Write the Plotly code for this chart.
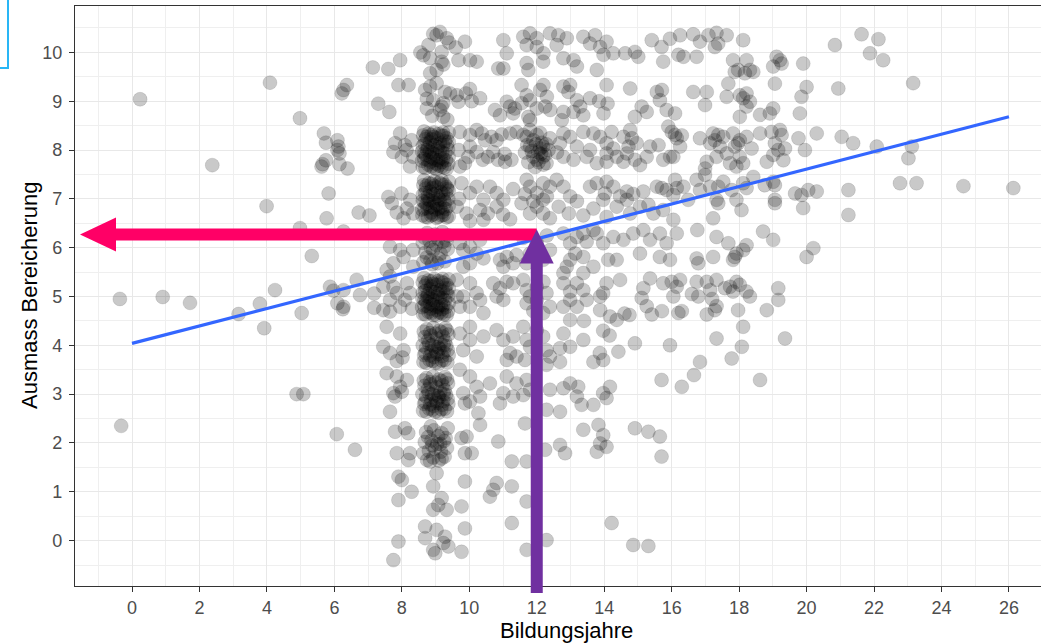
import plotly.graph_objects as go

# Bildungsjahre (x) und Ausmass Bereicherung (y), nach Bildungsjahr gruppiert (gejittert)
spalte_links = [
    (0.24, 9.04), (4.09, 9.38), (2.38, 7.69), (3.99, 6.85), (4.98, 8.65), (5.33, 5.83),
    (-0.36, 4.95), (0.91, 4.99), (1.72, 4.87), (3.16, 4.64), (3.79, 4.85), (5.03, 4.66),
    (4.24, 5.13), (4.98, 6.40), (3.92, 4.35), (-0.32, 2.35), (4.88, 3.0), (5.08, 3.0),
    (6.07, 2.18), (6.61, 1.86),
    (5.69, 8.34), (5.75, 8.15), (6.09, 8.2), (6.09, 8.0), (6.15, 7.93), (5.65, 7.71),
    (5.62, 7.66), (5.75, 7.79), (6.15, 7.71), (6.39, 7.62), (6.12, 8.07),
    (5.83, 7.11), (5.77, 6.60), (6.72, 6.72), (7.04, 6.66), (6.27, 6.33),
    (6.27, 9.23), (6.37, 9.33), (6.22, 9.16), (7.14, 9.69), (7.3, 8.95),
    (6.66, 5.34), (5.97, 5.12), (6.27, 5.13), (6.76, 5.03), (7.18, 5.06), (6.09, 4.86),
    (6.27, 4.79), (6.25, 4.74), (7.18, 4.77), (5.87, 5.2),
]

spalte_08 = [
    (7.6, 9.66), (7.95, 9.84), (7.9, 9.33), (8.2, 9.33), (7.63, 8.78),
    (7.95, 8.34), (7.8, 8.14), (8.09, 8.1), (7.75, 7.96), (8.0, 7.86), (8.34, 7.86),
    (8.24, 7.66), (8.29, 8.2), (8.14, 8.0),
    (7.6, 7.04), (7.99, 7.11), (7.7, 6.91), (7.85, 6.72), (8.05, 6.6), (8.25, 6.98),
    (8.15, 6.8), (8.34, 6.7),
    (7.65, 6.02), (7.95, 5.95), (8.05, 5.81), (7.75, 5.68), (8.34, 5.95), (8.34, 5.61),
    (7.55, 5.54),
    (7.65, 5.41), (7.45, 5.2), (7.75, 5.2), (7.85, 5.07), (7.65, 4.93), (7.95, 4.79),
    (8.15, 5.27), (8.09, 4.93), (7.45, 4.72), (8.24, 5.07), (7.65, 4.69), (8.3, 4.75),
    (7.55, 4.38), (7.45, 3.97), (7.65, 3.84), (7.95, 4.24), (8.05, 3.9), (7.85, 3.68),
    (8.02, 3.75),
    (7.55, 3.43), (7.85, 3.36), (7.95, 3.15), (7.75, 3.02), (8.15, 3.29), (8.0, 3.05),
    (7.65, 2.64), (7.8, 2.95),
    (7.8, 2.23), (8.09, 2.3), (8.19, 2.2), (7.85, 1.79), (8.24, 1.79), (8.19, 1.65),
    (7.9, 1.31), (8.0, 1.24), (8.29, 1.0), (7.9, 0.83),
    (7.9, -0.02), (7.75, -0.4),
]

spalte_09 = [
    # Wert 10 und 9
    (9.03, 10.35), (9.33, 10.29), (9.18, 10.01), (8.79, 10.15), (8.64, 9.94), (9.18, 9.81),
    (9.03, 9.64), (8.84, 9.88), (9.23, 9.75), (8.84, 9.57), (9.13, 10.42), (9.4, 10.2),
    (8.93, 10.38), (8.55, 10.0),
    (8.69, 9.23), (8.84, 9.3), (9.03, 9.37), (9.28, 9.19), (8.74, 9.05), (8.93, 9.02),
    (9.23, 8.96), (9.13, 8.82), (8.74, 8.85), (9.18, 8.89), (9.23, 8.68), (9.35, 8.62),
    (9.43, 9.16), (8.9, 8.7),
    # Wert 8
    (8.62, 7.65), (8.78, 7.7), (8.95, 7.63), (9.1, 7.68), (9.26, 7.64), (9.38, 7.72),
    (8.66, 7.82), (8.84, 7.86), (9.0, 7.8), (9.15, 7.84), (9.31, 7.79),
    (8.6, 7.97), (8.75, 8.0), (8.9, 7.95), (9.05, 8.02), (9.2, 7.96), (9.37, 8.01),
    (8.68, 8.12), (8.83, 8.16), (8.98, 8.1), (9.13, 8.14), (9.28, 8.18),
    (8.63, 8.3), (8.79, 8.34), (8.94, 8.27), (9.09, 8.33), (9.24, 8.29), (9.39, 8.36),
    (8.71, 7.9), (9.18, 7.75), (8.88, 8.22), (9.34, 8.1), (9.02, 7.72), (8.7, 8.22),
    (9.22, 8.36), (8.85, 7.76),
    (8.7, 7.63), (8.87, 7.66), (9.03, 7.61), (9.18, 7.66), (9.33, 7.62),
    (8.6, 7.78), (8.76, 7.8), (8.92, 7.83), (9.08, 7.79), (9.23, 7.82), (9.39, 7.86),
    (8.67, 7.93), (8.83, 7.97), (8.98, 7.92), (9.13, 7.98), (9.28, 7.93),
    (8.62, 8.08), (8.77, 8.05), (8.92, 8.09), (9.07, 8.06), (9.22, 8.1), (9.39, 8.17),
    (8.73, 8.27), (8.88, 8.31), (9.03, 8.24), (9.18, 8.3), (9.33, 8.24),
    (8.96, 8.36), (8.66, 8.38),
    # Wert 7
    (8.61, 6.66), (8.77, 6.62), (8.93, 6.68), (9.08, 6.63), (9.24, 6.67), (9.39, 6.64),
    (8.67, 6.8), (8.83, 6.83), (8.99, 6.78), (9.14, 6.82), (9.3, 6.79),
    (8.62, 6.96), (8.78, 6.99), (8.94, 6.95), (9.09, 7.01), (9.25, 6.97), (9.38, 7.0),
    (8.69, 7.12), (8.84, 7.15), (9.0, 7.1), (9.16, 7.14), (9.31, 7.11),
    (8.64, 7.28), (8.8, 7.32), (8.96, 7.27), (9.11, 7.33), (9.27, 7.29), (9.4, 7.35),
    (8.73, 6.9), (9.2, 6.73), (8.9, 7.22), (9.35, 7.2), (9.04, 6.88), (8.71, 7.21),
    (9.18, 7.38), (8.87, 6.72),
    (8.7, 6.63), (8.87, 6.66), (9.03, 6.61), (9.18, 6.66), (9.33, 6.62),
    (8.6, 6.78), (8.76, 6.8), (8.92, 6.83), (9.08, 6.79), (9.23, 6.82), (9.39, 6.86),
    (8.67, 6.93), (8.83, 6.97), (8.98, 6.92), (9.13, 6.98), (9.28, 6.93),
    (8.62, 7.08), (8.77, 7.05), (8.92, 7.09), (9.07, 7.06), (9.22, 7.1), (9.39, 7.17),
    (8.73, 7.27), (8.88, 7.31), (9.03, 7.24), (9.18, 7.3), (9.33, 7.24),
    (8.96, 7.36), (8.66, 7.38),
    # Wert 6
    (8.64, 5.7), (8.85, 5.74), (9.05, 5.68), (9.27, 5.72),
    (8.7, 5.9), (8.93, 5.95), (9.15, 5.88), (9.36, 5.97),
    (8.62, 6.1), (8.82, 6.14), (9.02, 6.06), (9.22, 6.12),
    (8.75, 6.3), (8.98, 6.27), (9.2, 6.32), (9.38, 6.25),
    (8.74, 5.8), (9.1, 5.78), (8.86, 6.0), (9.26, 6.02), (8.68, 6.2), (9.08, 6.18),
    (8.9, 5.66), (9.32, 6.15),
    # Wert 5
    (8.63, 4.64), (8.79, 4.68), (8.94, 4.62), (9.11, 4.67), (9.25, 4.63), (9.37, 4.7),
    (8.67, 4.81), (8.83, 4.85), (9.01, 4.79), (9.16, 4.83), (9.3, 4.78),
    (8.61, 4.96), (8.76, 5.0), (8.91, 4.94), (9.06, 5.01), (9.21, 4.97), (9.38, 5.02),
    (8.69, 5.11), (8.84, 5.15), (8.99, 5.09), (9.14, 5.13), (9.29, 5.17),
    (8.62, 5.29), (8.78, 5.33), (8.93, 5.26), (9.08, 5.32), (9.23, 5.28), (9.39, 5.35),
    (8.72, 4.9), (9.19, 4.74), (8.87, 5.21), (9.33, 5.08), (9.03, 4.72), (8.69, 5.22),
    (9.21, 5.36), (8.86, 4.75),
    (8.7, 4.63), (8.87, 4.66), (9.03, 4.61), (9.18, 4.66), (9.33, 4.62),
    (8.6, 4.78), (8.76, 4.8), (8.92, 4.83), (9.08, 4.79), (9.23, 4.82), (9.39, 4.86),
    (8.67, 4.93), (8.83, 4.97), (8.98, 4.92), (9.13, 4.98), (9.28, 4.93),
    (8.62, 5.08), (8.77, 5.05), (8.92, 5.09), (9.07, 5.06), (9.22, 5.1), (9.39, 5.17),
    (8.73, 5.27), (8.88, 5.31), (9.03, 5.24), (9.18, 5.3), (9.33, 5.24),
    (8.96, 5.36), (8.66, 5.38),
    # Wert 4
    (8.64, 3.66), (8.82, 3.7), (9.0, 3.64), (9.18, 3.69), (9.35, 3.65),
    (8.7, 3.84), (8.88, 3.88), (9.06, 3.82), (9.24, 3.86), (9.39, 3.8),
    (8.62, 4.0), (8.8, 4.03), (8.97, 3.97), (9.15, 4.04), (9.32, 3.99),
    (8.68, 4.17), (8.86, 4.2), (9.04, 4.14), (9.22, 4.18), (9.38, 4.22),
    (8.74, 4.33), (8.93, 4.36), (9.11, 4.3), (9.29, 4.35),
    (8.95, 3.76), (9.12, 3.93), (8.78, 4.1), (9.28, 4.08),
    (8.73, 3.64), (8.91, 3.68), (9.09, 3.62), (9.27, 3.7),
    (8.66, 3.8), (8.84, 3.79), (9.02, 3.86), (9.2, 3.78), (9.36, 3.9),
    (8.72, 3.95), (8.9, 4.0), (9.08, 3.96), (9.24, 4.0),
    (8.65, 4.28), (8.83, 4.25), (9.0, 4.24), (9.18, 4.27), (9.34, 4.3),
    # Wert 3
    (8.63, 2.66), (8.81, 2.7), (8.99, 2.64), (9.17, 2.69), (9.34, 2.65),
    (8.69, 2.84), (8.87, 2.88), (9.05, 2.82), (9.23, 2.86), (9.38, 2.8),
    (8.61, 3.0), (8.79, 3.03), (8.96, 2.97), (9.14, 3.04), (9.31, 2.99),
    (8.67, 3.17), (8.85, 3.2), (9.03, 3.14), (9.21, 3.18), (9.37, 3.22),
    (8.73, 3.33), (8.92, 3.36), (9.1, 3.3), (9.28, 3.35),
    (8.94, 2.76), (9.11, 2.93), (8.77, 3.1), (9.27, 3.08),
    (8.73, 2.64), (8.91, 2.68), (9.09, 2.62), (9.27, 2.7),
    (8.66, 2.8), (8.84, 2.79), (9.02, 2.86), (9.2, 2.78), (9.36, 2.9),
    (8.72, 2.95), (8.9, 3.0), (9.08, 2.96), (9.24, 3.0),
    (8.65, 3.28), (8.83, 3.25), (9.0, 3.24), (9.18, 3.27), (9.34, 3.3),
    # Wert 2
    (8.75, 1.65), (8.93, 1.7), (9.1, 1.64), (9.27, 1.72),
    (8.8, 1.84), (8.98, 1.88), (9.16, 1.82), (9.34, 1.9),
    (8.68, 2.02), (8.88, 2.05), (9.05, 1.98), (9.25, 2.04),
    (8.72, 2.22), (8.95, 2.26), (9.18, 2.2), (9.36, 2.3), (8.64, 1.79),
    (8.84, 1.62), (9.18, 1.68), (8.9, 1.95), (9.14, 1.98), (8.78, 2.12), (9.08, 2.14),
    (9.3, 2.1), (8.86, 2.34),
    # Wert 1 und 0
    (9.03, 1.38), (8.93, 1.11), (9.18, 0.87), (9.33, 0.63), (8.93, 0.63), (9.08, 0.73),
    (8.69, 0.29), (9.03, 0.22), (9.28, 0.08), (8.69, 0.05), (8.93, -0.19), (9.23, -0.05),
    (9.38, -0.12), (8.99, -0.26),
]

spalte_10 = [
    (9.68, 9.84), (9.87, 10.22), (10.02, 9.84), (10.22, 9.81), (9.6, 10.1),
    (9.68, 8.99), (10.02, 9.25), (10.32, 9.06), (10.07, 9.0), (9.63, 9.12), (9.9, 9.16),
    (9.72, 8.37), (10.02, 8.31), (10.22, 8.41), (10.37, 8.34), (10.47, 8.2), (10.02, 8.07),
    (9.68, 8.0), (9.97, 7.86), (9.87, 7.73), (10.22, 7.96), (9.72, 7.66), (10.4, 7.8),
    (10.22, 7.25), (10.02, 7.12), (10.42, 6.98), (9.63, 6.84), (9.92, 6.7), (10.32, 6.77),
    (10.42, 6.57), (10.02, 6.55), (9.77, 7.32), (9.7, 7.0),
    (9.72, 6.09), (9.82, 5.95), (10.02, 6.02), (10.22, 5.88), (10.42, 5.78), (10.02, 5.68),
    (9.82, 5.61), (10.32, 6.16),
    (9.63, 5.34), (10.02, 5.27), (10.22, 5.07), (9.82, 5.0), (10.32, 4.93), (10.02, 4.79),
    (10.42, 4.66), (9.72, 4.79), (9.63, 5.0),
    (9.72, 4.24), (10.02, 4.11), (9.82, 3.9), (10.22, 3.77), (10.42, 4.18), (10.02, 4.38),
    (9.72, 3.5), (10.02, 3.36), (10.22, 3.15), (9.82, 3.02), (10.32, 2.95), (10.61, 3.22),
    (9.87, 2.81), (10.02, 2.85), (10.27, 2.61),
    (10.32, 2.37), (9.92, 2.13), (9.77, 2.1), (9.87, 1.79), (10.07, 1.79),
    (9.87, 1.21), (9.77, 0.7), (9.87, 0.25), (9.77, -0.23),
]

spalte_11 = [
    (11.01, 10.25), (11.11, 9.98), (10.86, 9.67), (11.01, 9.67),
    (10.76, 8.82), (10.91, 8.71), (11.11, 8.99), (11.21, 8.89), (11.3, 8.75), (11.35, 8.85),
    (10.66, 8.27), (10.81, 8.2), (10.96, 8.32), (11.21, 8.34), (11.4, 8.37), (10.71, 7.96),
    (11.06, 7.76), (10.55, 7.86), (10.85, 7.8), (11.05, 7.92), (11.25, 7.8),
    (10.61, 7.25), (10.81, 7.12), (11.01, 6.98), (10.81, 6.84), (10.55, 6.7), (11.0, 6.68),
    (11.21, 6.58), (11.3, 7.2),
    (10.91, 5.75), (11.11, 5.81), (11.4, 5.85), (11.3, 5.68), (11.01, 5.61),
    (10.71, 5.27), (10.91, 5.17), (11.11, 5.3), (11.3, 5.27), (11.01, 4.93), (10.81, 5.0),
    (10.81, 4.31), (11.01, 4.11), (11.3, 4.18), (11.21, 3.84), (11.11, 3.7), (11.4, 3.77),
    (11.11, 3.36), (11.4, 3.22), (11.01, 3.02), (11.3, 2.95), (10.91, 2.81),
    (10.86, 2.03), (11.26, 1.62),
    (10.81, 1.18), (10.61, 0.9), (10.71, 1.04), (11.26, 1.11), (11.26, 0.36),
]

spalte_12 = [
    (11.6, 10.32), (11.8, 10.39), (12.0, 10.29), (11.7, 10.15), (12.0, 10.11), (12.2, 9.98),
    (12.39, 10.39), (11.7, 9.78), (11.75, 9.64), (12.19, 9.81),
    (11.55, 9.33), (11.7, 9.12), (11.8, 9.02), (12.1, 9.23), (12.2, 9.33), (12.3, 9.09),
    (12.25, 8.89), (12.0, 8.85), (12.4, 8.82), (11.75, 8.68), (11.8, 8.61), (11.55, 8.96),
    (11.7, 8.27), (11.8, 8.41), (12.0, 8.31), (12.19, 8.07), (12.39, 8.24), (11.8, 8.07),
    (12.1, 8.03), (11.9, 7.86), (12.19, 7.86), (12.29, 7.73), (12.05, 7.95), (12.2, 7.7),
    (11.95, 7.65), (12.15, 8.15), (12.25, 7.9), (11.9, 8.2), (11.6, 8.31), (11.65, 7.95),
    (12.35, 8.0), (12.05, 7.75), (11.75, 7.75), (12.1, 8.35),
    (11.85, 7.98), (12.12, 7.92), (11.98, 8.12), (12.28, 8.12), (11.72, 8.1), (12.0, 7.8),
    (11.7, 7.39), (11.8, 7.25), (12.0, 7.12), (12.19, 7.32), (12.39, 7.25), (12.19, 6.98),
    (11.55, 6.91), (11.8, 6.7), (12.0, 6.84), (12.19, 6.7), (12.39, 6.6), (11.9, 6.95),
    (12.3, 7.05), (11.65, 7.1),
    (11.7, 5.68), (11.8, 5.88), (12.19, 5.75), (12.39, 5.95), (12.0, 6.1), (11.6, 6.2),
    (12.3, 6.25),
    (11.6, 5.34), (11.7, 5.13), (11.8, 5.0), (12.0, 4.93), (12.29, 5.07), (12.39, 4.79),
    (12.19, 4.66), (11.7, 4.86), (12.0, 5.2), (12.2, 5.3), (11.9, 4.7),
    (11.6, 4.38), (11.7, 4.11), (11.8, 3.97), (12.29, 3.9), (12.39, 3.77), (12.0, 4.31),
    (12.19, 4.18), (12.29, 3.6), (11.65, 3.7),
    (11.7, 3.29), (11.8, 3.09), (12.39, 3.09), (12.29, 2.68), (11.6, 2.98),
    (11.65, 2.4), (11.7, 1.62), (12.25, 1.86), (11.7, 0.8), (12.29, 0.01), (11.7, -0.19),
]

spalte_13 = [
    (12.64, 10.35), (12.89, 10.29), (12.59, 10.15), (12.79, 9.88), (13.09, 9.84),
    (13.19, 9.71), (13.38, 10.32),
    (12.79, 9.3), (12.94, 9.19), (12.99, 9.33), (13.19, 9.02), (13.29, 8.89), (13.09, 8.78),
    (13.38, 8.71), (12.79, 8.78), (12.74, 8.61),
    (12.69, 8.14), (12.79, 8.34), (12.99, 8.27), (13.19, 8.07), (13.38, 8.37), (12.79, 7.86),
    (13.09, 7.8), (13.48, 7.86), (12.6, 7.95),
    (12.59, 7.39), (12.79, 7.25), (12.99, 7.05), (12.65, 6.84), (12.95, 6.7), (13.19, 6.95),
    (13.38, 6.66),
    (12.99, 6.09), (13.19, 6.22), (13.48, 6.12), (12.99, 5.75), (12.89, 5.61), (13.38, 5.81),
    (13.14, 5.88), (12.79, 6.29), (13.38, 6.29),
    (12.79, 5.27), (12.99, 5.1), (13.19, 5.27), (13.38, 5.13), (12.99, 4.93), (12.79, 4.79),
    (13.19, 4.79), (13.48, 4.93), (12.79, 5.48), (13.38, 5.48),
    (12.79, 4.24), (12.99, 3.97), (13.38, 4.11), (12.69, 3.66), (12.69, 3.94), (12.99, 4.52),
    (13.4, 4.5),
    (12.99, 3.22), (13.19, 2.95), (13.23, 3.15), (12.79, 3.12), (13.33, 2.78), (12.69, 2.64),
    (13.38, 2.27), (12.69, 1.96), (12.84, 1.79),
]

spalte_14 = [
    (13.73, 10.35), (13.58, 10.18), (13.88, 10.11), (13.98, 9.95), (13.78, 9.64),
    (14.07, 10.22), (14.27, 9.98),
    (13.58, 9.06), (13.85, 9.0), (13.98, 8.75), (14.1, 8.95), (14.07, 9.33),
    (13.68, 8.34), (13.88, 8.27), (14.07, 8.14), (14.27, 8.03), (13.78, 7.73), (14.07, 7.76),
    (14.37, 7.86), (14.22, 8.37), (14.07, 7.93), (13.58, 8.0),
    (13.58, 7.25), (13.78, 7.32), (14.07, 7.35), (14.27, 7.25), (14.47, 7.05), (13.97, 6.98),
    (14.37, 6.84), (13.68, 6.8), (14.07, 6.63), (14.02, 7.11),
    (13.78, 6.29), (13.97, 6.09), (13.68, 6.36), (14.27, 6.22), (14.37, 5.75), (14.12, 5.75),
    (13.68, 5.61),
    (13.88, 5.0), (13.97, 5.07), (13.88, 4.72), (14.17, 4.59), (14.07, 5.27), (14.47, 5.34),
    (13.97, 4.3), (14.16, 4.2), (13.87, 3.84), (14.42, 3.87), (13.68, 3.66), (13.97, 3.7),
    (14.37, 4.52),
    (13.97, 3.02), (14.17, 3.15), (14.07, 2.92), (13.68, 2.78),
    (13.83, 2.37), (13.97, 2.16), (13.88, 1.99), (14.07, 1.92), (13.78, 1.82),
    (14.22, 0.36),
]

spalte_15 = [
    (15.41, 10.25), (14.62, 9.98), (14.91, 10.01), (15.01, 9.91),
    (14.77, 9.26), (15.11, 8.89), (15.26, 8.78), (14.91, 8.68),
    (14.77, 8.41), (14.82, 8.24), (14.72, 8.07), (14.67, 7.93), (14.91, 7.8), (15.06, 7.69),
    (14.57, 7.76), (15.26, 7.86), (15.36, 8.07), (14.57, 8.27), (14.96, 8.14),
    (14.67, 7.15), (14.86, 7.1), (15.16, 7.15), (14.67, 6.98), (15.06, 6.84), (15.31, 6.88),
    (14.77, 6.7), (15.46, 6.7),
    (14.57, 6.16), (14.86, 6.29), (15.16, 6.36), (15.36, 6.16), (15.06, 5.88),
    (15.36, 5.37), (15.16, 5.17), (15.11, 4.97), (15.26, 4.8), (15.41, 4.63), (14.6, 4.65),
    (14.75, 4.62),
    (14.91, 4.04),
    (14.91, 2.3), (15.31, 2.23),
    (14.86, -0.09), (15.31, -0.11),
]

spalte_16 = [
    (15.7, 10.11), (15.95, 10.28), (16.25, 10.35), (15.75, 9.81), (16.2, 9.95), (16.35, 9.91),
    (15.56, 9.19), (15.71, 9.23), (15.65, 9.02), (15.85, 8.82), (16.1, 8.75),
    (15.61, 8.1), (15.9, 8.48), (16.0, 8.37), (16.1, 8.31), (16.15, 8.24), (15.95, 7.86),
    (16.25, 8.07), (15.75, 7.8), (16.05, 7.86), (16.3, 8.3),
    (15.71, 7.22), (16.1, 7.39), (16.15, 7.22), (16.35, 7.25), (16.05, 7.08), (15.56, 7.25),
    (15.85, 7.18), (15.75, 6.77), (16.05, 6.57),
    (15.65, 6.29), (15.85, 6.09), (16.15, 6.29), (15.65, 5.81), (15.95, 5.75),
    (15.71, 4.7), (16.0, 5.3), (16.25, 5.34), (16.3, 4.7), (16.2, 4.66), (16.05, 5.0),
    (15.75, 5.27), (16.15, 5.2),
    (15.95, 4.0),
    (15.7, 3.29), (16.3, 3.15),
    (15.65, 2.13), (15.7, 1.72),
]

spalte_17 = [
    (16.64, 10.37), (16.84, 10.22), (17.09, 10.35), (17.33, 10.4), (17.38, 10.18),
    (17.28, 10.11), (16.74, 9.91),
    (16.64, 9.19), (17.04, 9.19), (16.99, 8.92),
    (16.84, 8.24), (17.23, 8.34), (17.38, 8.31), (17.14, 8.14), (17.04, 7.76), (16.99, 7.62),
    (17.43, 8.07), (17.33, 7.86), (17.28, 8.2),
    (16.49, 6.98), (16.74, 7.39), (16.99, 7.49), (16.84, 7.18), (17.14, 7.25), (17.38, 7.25),
    (17.38, 6.91), (17.23, 6.6), (17.33, 6.98),
    (16.76, 6.36), (17.33, 6.22), (16.74, 5.78), (16.79, 5.68), (17.23, 5.81),
    (16.74, 5.3), (16.79, 5.0), (17.04, 5.3), (17.33, 5.34), (17.14, 5.13), (17.33, 4.8),
    (17.28, 4.72), (17.04, 4.63), (16.6, 5.05), (17.2, 4.95),
    (17.33, 4.14), (16.84, 3.66), (16.66, 3.39),
]

spalte_18 = [
    (17.63, 10.35), (18.12, 10.25), (17.82, 9.84), (18.22, 9.84), (18.32, 9.64), (18.42, 9.6),
    (18.17, 9.57), (17.97, 9.64), (17.87, 9.6),
    (17.68, 9.36), (17.63, 9.09), (18.02, 9.12), (18.12, 9.06), (18.22, 9.16), (18.32, 8.99),
    (18.22, 8.89), (18.02, 8.68),
    (17.53, 8.27), (17.82, 8.34), (18.02, 8.2), (18.22, 8.27), (18.37, 8.03), (18.02, 7.86),
    (18.12, 7.73), (17.92, 7.66), (17.73, 7.73), (17.63, 7.93), (17.97, 8.14), (17.87, 8.07),
    (17.53, 7.35), (17.78, 7.18), (18.12, 7.32), (18.22, 7.22), (17.92, 6.98), (18.42, 7.45),
    (18.07, 6.77),
    (17.68, 6.09), (18.22, 6.05), (18.12, 5.95), (17.82, 5.75), (17.92, 5.88), (17.87, 5.81),
    (17.58, 5.17), (17.82, 5.1), (17.92, 5.3), (18.02, 5.24), (18.22, 5.1), (18.32, 5.0),
    (17.97, 4.72), (17.73, 5.2),
    (18.12, 4.38), (18.08, 3.97), (17.78, 3.73),
]

spalte_rechts = [
    (18.62, 8.72), (18.91, 8.75), (19.01, 8.85), (19.11, 9.91), (19.21, 9.84), (19.26, 9.77),
    (19.01, 9.71), (19.9, 9.77), (19.06, 9.36), (20.0, 9.29), (19.85, 9.09), (19.8, 8.75),
    (20.84, 10.15), (21.63, 10.37), (22.13, 10.27), (21.88, 9.98), (22.27, 9.84),
    (23.16, 9.37), (20.94, 9.26),
    (18.62, 8.34), (18.96, 8.37), (19.21, 8.41), (19.26, 8.31), (19.06, 8.14), (19.16, 8.0),
    (19.36, 8.03), (19.01, 7.9), (18.82, 7.76), (19.31, 7.79), (19.76, 8.24), (19.95, 8.0),
    (20.3, 8.34), (21.04, 8.27), (21.38, 8.14), (22.08, 8.07), (23.12, 8.07), (23.02, 7.83),
    (19.01, 7.35), (19.06, 6.98), (19.66, 7.11), (19.85, 7.08), (20.05, 7.18), (20.3, 7.15),
    (18.76, 7.28), (19.06, 7.28), (22.77, 7.32), (23.26, 7.32), (24.65, 7.26), (26.13, 7.22),
    (21.24, 7.18), (21.24, 6.67), (19.9, 6.81), (19.06, 6.91),
    (18.71, 6.33), (19.01, 6.16), (20.0, 5.81), (20.2, 5.99),
    (18.82, 4.72), (19.16, 5.17), (19.16, 4.93),
    (19.36, 4.14), (18.62, 3.29),
]

punkte = (spalte_links + spalte_08 + spalte_09 + spalte_10 + spalte_11 + spalte_12
          + spalte_13 + spalte_14 + spalte_15 + spalte_16 + spalte_17 + spalte_18
          + spalte_rechts)
bildungsjahre = [p[0] for p in punkte]
bereicherung = [p[1] for p in punkte]

# lineare Regression Bereicherung ~ Bildungsjahre
fit_jahre = [0, 26]
fit_werte = [4.04, 8.68]

# Ablesebeispiel: 12 Bildungsjahre
ziel_jahre = 12
ziel_wert = 6.27

x_ticks = list(range(0, 27, 2))
y_ticks = list(range(0, 11))

X_RANGE = [-1.69, 26.95]
Y_RANGE = [-0.93, 10.95]

W, H = 1041, 643
M_L, M_R, M_T, M_B = 75, 0, 6, 57
PLOT_W = W - M_L - M_R
PLOT_H = H - M_T - M_B


def paper_x(v):
    return (v - X_RANGE[0]) / (X_RANGE[1] - X_RANGE[0])


def paper_y(v):
    return (v - Y_RANGE[0]) / (Y_RANGE[1] - Y_RANGE[0])


def pxw(p):
    return p / PLOT_W


def pxh(p):
    return p / PLOT_H


fig = go.Figure()

fig.add_trace(go.Scatter(
    x=bildungsjahre, y=bereicherung, mode="markers",
    marker=dict(size=14, color="rgba(0,0,0,0.21)",
                line=dict(width=1, color="rgba(0,0,0,0.10)")),
    hoverinfo="skip", showlegend=False,
))

fig.add_trace(go.Scatter(
    x=fit_jahre, y=fit_werte, mode="lines",
    line=dict(color="#3366FF", width=3.2),
    hoverinfo="skip", showlegend=False,
))

# horizontaler Pfeil (nach links zur y-Achse)
ry = paper_y(ziel_wert)
r_end = paper_x(ziel_jahre)
r_tip = pxw(5)
r_base = r_tip + pxw(36)
pfeil_rot = (
    f"M {r_tip},{ry} L {r_base},{ry + pxh(17)} L {r_base},{ry + pxh(6)} "
    f"L {r_end},{ry + pxh(6)} L {r_end},{ry - pxh(6)} L {r_base},{ry - pxh(6)} "
    f"L {r_base},{ry - pxh(17)} Z"
)

# vertikaler Pfeil (von der x-Achse nach oben)
vx = paper_x(ziel_jahre)
v_tip = ry + pxh(5)
v_base = v_tip - pxh(34)
v_bottom = -pxh(7)
pfeil_lila = (
    f"M {vx},{v_tip} L {vx + pxw(17)},{v_base} L {vx + pxw(6)},{v_base} "
    f"L {vx + pxw(6)},{v_bottom} L {vx - pxw(6)},{v_bottom} L {vx - pxw(6)},{v_base} "
    f"L {vx - pxw(17)},{v_base} Z"
)

shapes = [
    dict(type="path", xref="paper", yref="paper", path=pfeil_rot,
         fillcolor="#FF0066", line=dict(width=0), layer="above"),
    dict(type="path", xref="paper", yref="paper", path=pfeil_lila,
         fillcolor="#7030A0", line=dict(width=0), layer="above"),
    # Rahmen oben links
    dict(type="rect", xref="paper", yref="paper",
         x0=pxw(-M_L - 20), x1=pxw(8 - M_L), y0=pxh(PLOT_H + M_T - 68), y1=pxh(PLOT_H + M_T + 20),
         line=dict(color="#29B6F6", width=2), fillcolor="rgba(0,0,0,0)", layer="above"),
]

grid = "#E8E8E8"
fig.update_layout(
    width=W, height=H,
    margin=dict(l=M_L, r=M_R, t=M_T, b=M_B),
    paper_bgcolor="white", plot_bgcolor="white",
    font=dict(family="Liberation Sans, Arial, sans-serif", color="#4D4D4D", size=18),
    shapes=shapes,
    xaxis=dict(
        range=X_RANGE, tickvals=x_ticks, ticktext=[str(v) for v in x_ticks],
        showgrid=True, gridcolor=grid, gridwidth=1.4,
        minor=dict(dtick=1, tick0=0, showgrid=True, gridcolor="#EFEFEF", gridwidth=1),
        showline=True, linecolor="#333333", linewidth=1.2, mirror=True,
        ticks="outside", ticklen=5, tickcolor="#333333", tickwidth=1.2,
        zeroline=False, tickfont=dict(size=18, color="#4D4D4D"),
    ),
    yaxis=dict(
        range=Y_RANGE, tickvals=y_ticks, ticktext=[str(v) for v in y_ticks],
        showgrid=True, gridcolor=grid, gridwidth=1.4,
        minor=dict(dtick=0.5, tick0=0, showgrid=True, gridcolor="#EFEFEF", gridwidth=1),
        showline=True, linecolor="#333333", linewidth=1.2, mirror=False,
        ticks="outside", ticklen=5, tickcolor="#333333", tickwidth=1.2,
        ticklabelstandoff=3,
        zeroline=False, tickfont=dict(size=18, color="#4D4D4D"),
    ),
    annotations=[
        dict(text="Bildungsjahre", xref="paper", yref="paper",
             x=pxw(566 - M_L), y=-pxh(44), xanchor="center", yanchor="middle",
             showarrow=False, font=dict(size=22, color="black")),
        dict(text="Ausmass Bereicherung", xref="paper", yref="paper",
             x=-pxw(46), y=0.5, xanchor="center", yanchor="middle", textangle=-90,
             showarrow=False, font=dict(size=22, color="black")),
    ],
)

fig.write_html("out.html")
